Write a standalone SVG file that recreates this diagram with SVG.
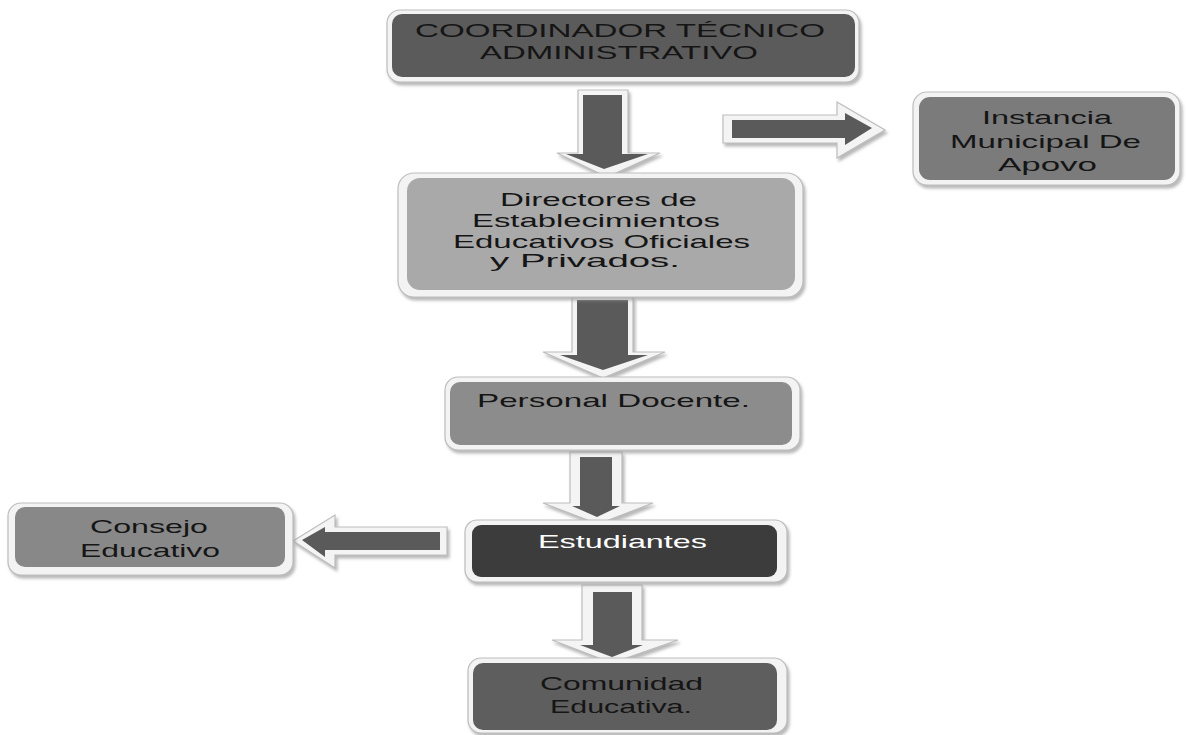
<svg xmlns="http://www.w3.org/2000/svg" width="1186" height="735" viewBox="0 0 1186 735">
<defs>
<filter id="sh" x="-5%" y="-10%" width="110%" height="125%">
<feDropShadow dx="2" dy="3" stdDeviation="1.5" flood-color="#9a9a9a" flood-opacity="0.7"/>
</filter>
</defs>
<style>
.frame{fill:#f3f3f3;stroke:#bdbdbd;stroke-width:1.2;filter:url(#sh)}
.t{font-family:"Liberation Sans",Arial,sans-serif;font-size:19px;fill:#151515;text-anchor:middle}
.w{fill:#ffffff}
.aout{fill:#f4f4f4;stroke:#bdbdbd;stroke-width:1.2;stroke-linejoin:miter;filter:url(#sh)}
.ain{fill:#5a5a5a}
</style>
<rect width="1186" height="735" fill="#ffffff"/>

<g id="connectors">
<g id="a1">
<polygon class="aout" points="578,90 628,90 628,153 660,153 607,177 557,153 578,153"/>
<polygon class="ain" points="583,95 622,95 622,154 648,154 604,169 566,154 583,154"/>
</g>
<g id="a-right">
<polygon class="aout" points="723,115 837,115 837,102 885,130 837,158 837,143 723,143"/>
<polygon class="ain" points="732,120 845,120 845,113 872,128 845,145 845,138 732,138"/>
</g>
<g id="a2">
<polygon class="aout" points="572,297 633,297 633,352 665,352 603,378 543,352 572,352"/>
<polygon class="ain" points="577,300 628,300 628,355 648,355 603,370 560,355 577,355"/>
</g>
<g id="a3">
<polygon class="aout" points="570,452 622,452 622,503 653,503 598,524 543,503 570,503"/>
<polygon class="ain" points="580,457 612,457 612,506 620,506 597,517 572,506 580,506"/>
</g>
<g id="a-left">
<polygon class="aout" points="447,527 335,527 335,515 293,541 335,568 335,555 447,555"/>
<polygon class="ain" points="440,532 325,532 325,527 302,540 325,557 325,550 440,550"/>
</g>
<g id="a4">
<polygon class="aout" points="582,585 642,585 642,640 678,640 612,663 552,640 582,640"/>
<polygon class="ain" points="593,592 632,592 632,645 643,645 612,657 580,645 593,645"/>
</g>
</g>

<g id="coordinador">
<rect class="frame" x="387" y="10" width="472" height="72" rx="13"/>
<rect x="392" y="14" width="463" height="63" rx="10" fill="#5b5b5b"/>
<text class="t" x="620" y="37" textLength="410" lengthAdjust="spacingAndGlyphs">COORDINADOR  TÉCNICO</text>
<text class="t" x="619" y="59" textLength="278" lengthAdjust="spacingAndGlyphs">ADMINISTRATIVO</text>
</g>

<g id="instancia">
<rect class="frame" x="913" y="92" width="267" height="93" rx="14"/>
<rect x="919" y="97" width="256" height="83" rx="11" fill="#7b7b7b"/>
<text class="t" x="1047" y="124" textLength="130" lengthAdjust="spacingAndGlyphs">Instancia</text>
<text class="t" x="1045.5" y="148" textLength="191" lengthAdjust="spacingAndGlyphs">Municipal  De</text>
<text class="t" x="1047.5" y="171" textLength="99" lengthAdjust="spacingAndGlyphs">Apovo</text>
</g>

<g id="directores">
<rect class="frame" x="398" y="173" width="405" height="124" rx="16"/>
<rect x="407" y="178" width="388" height="112" rx="13" fill="#a9a9a9"/>
<text class="t" x="598.5" y="206" textLength="197" lengthAdjust="spacingAndGlyphs">Directores de</text>
<text class="t" x="596" y="227" textLength="248" lengthAdjust="spacingAndGlyphs">Establecimientos</text>
<text class="t" x="601.5" y="248" textLength="297" lengthAdjust="spacingAndGlyphs">Educativos  Oficiales</text>
<text class="t" x="585" y="267" textLength="190" lengthAdjust="spacingAndGlyphs">y Privados.</text>
</g>

<g id="personal">
<rect class="frame" x="445" y="377" width="355" height="73" rx="13"/>
<rect x="450" y="382" width="342" height="63" rx="10" fill="#8c8c8c"/>
<text class="t" x="613.5" y="407" textLength="273" lengthAdjust="spacingAndGlyphs">Personal  Docente.</text>
</g>

<g id="estudiantes">
<rect class="frame" x="465" y="520" width="322" height="62" rx="12"/>
<rect x="472" y="525" width="305" height="52" rx="9" fill="#3c3c3c"/>
<text class="t w" x="622.5" y="548" textLength="169" lengthAdjust="spacingAndGlyphs">Estudiantes</text>
</g>

<g id="consejo">
<rect class="frame" x="8" y="503" width="285" height="72" rx="13"/>
<rect x="15" y="507" width="270" height="60" rx="10" fill="#888888"/>
<text class="t" x="149" y="533" textLength="118" lengthAdjust="spacingAndGlyphs">Consejo</text>
<text class="t" x="150" y="557" textLength="140" lengthAdjust="spacingAndGlyphs">Educativo</text>
</g>

<g id="comunidad">
<rect class="frame" x="468" y="658" width="319" height="75" rx="13"/>
<rect x="473" y="663" width="304" height="67" rx="10" fill="#5e5e5e"/>
<text class="t" x="621.5" y="690" textLength="163" lengthAdjust="spacingAndGlyphs">Comunidad</text>
<text class="t" x="621" y="713" textLength="142" lengthAdjust="spacingAndGlyphs">Educativa.</text>
</g>
</svg>
